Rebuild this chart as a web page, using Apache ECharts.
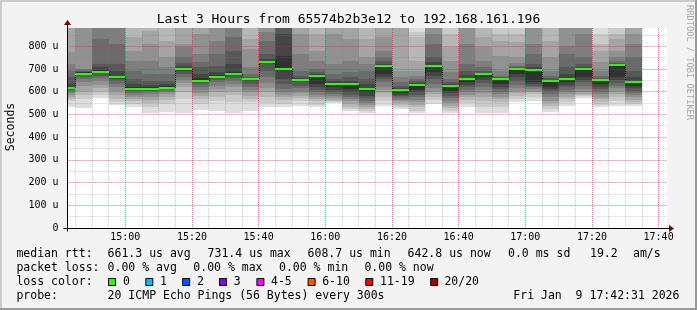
<!DOCTYPE html>
<html><head><meta charset="utf-8">
<script src="https://cdn.jsdelivr.net/npm/echarts@6/dist/echarts.min.js"></script>
<style>html,body{margin:0;padding:0;background:#f3f3f3}#c{width:697px;height:310px}</style>
</head><body><div id="c"></div>
<script>
// x values: minutes after 14:00; each bin covers (end-5, end]
const binEnds = [45,50,55,60,65,70,75,80,85,90,95,100,105,110,115,120,125,130,135,140,145,150,155,160,165,170,175,180,185,190,195,200,205,210,215];
// median rtt per bin, in microseconds
const medians = [614,679,688,666,613,613,617,701,648,666,679,657,732,701,651,669,634,634,613,713,607,629,713,625,657,678,657,701,697,647,657,701,653,719,644];
// 20 sorted ping times per bin (us); 900 = above the visible range
const pings = [
 [534,557,568,578,587,596,601,607,610,612,614,634,663,692,722,773,900,900,900,900],
 [528,568,587,604,626,641,656,666,673,679,685,688,692,695,700,900,900,900,900,900],
 [572,587,601,616,631,645,660,670,682,688,695,707,722,832,900,900,900,900,900,900],
 [541,553,568,587,604,619,634,645,656,663,670,692,722,810,900,900,900,900,900,900],
 [532,546,557,569,578,587,596,601,607,613,622,634,656,692,736,780,839,900,900,900],
 [506,531,549,563,578,590,597,604,609,613,619,631,648,678,736,810,865,900,900,900],
 [509,546,563,578,590,597,604,610,614,617,625,634,648,678,707,751,824,900,900,900],
 [506,568,597,619,636,651,663,678,692,701,705,713,725,751,795,810,900,900,900,900],
 [519,546,568,582,594,607,619,634,642,648,660,678,707,729,766,854,900,900,900,900],
 [513,560,578,597,612,626,641,651,660,666,673,685,714,766,824,900,900,900,900,900],
 [505,553,587,604,619,634,648,660,670,679,688,722,780,839,900,900,900,900,900,900],
 [516,553,568,582,597,609,619,634,648,657,659,661,666,678,707,788,832,900,900,900],
 [531,549,575,597,616,637,663,692,722,732,736,744,766,824,861,900,900,900,900,900],
 [531,546,563,575,587,597,612,634,656,701,758,854,900,900,900,900,900,900,900,900],
 [538,557,570,582,593,604,614,626,641,651,654,660,670,692,766,854,900,900,900,900],
 [531,543,557,568,578,587,597,607,619,634,669,678,685,700,736,780,854,900,900,900],
 [550,554,559,565,572,581,590,597,607,619,634,645,656,678,722,854,900,900,900,900],
 [513,524,534,546,557,568,578,587,597,612,634,648,663,685,736,832,900,900,900,900],
 [505,513,522,531,541,551,560,572,582,597,613,634,656,692,722,751,832,900,900,900],
 [538,560,578,593,607,622,641,656,666,678,713,722,736,751,780,839,900,900,900,900],
 [524,534,541,549,557,565,572,579,587,596,607,616,626,641,663,692,900,900,900,900],
 [505,516,531,543,553,563,575,587,597,607,629,637,645,656,670,692,736,839,861,900],
 [546,563,578,590,604,616,634,656,670,685,713,729,751,810,854,900,900,900,900,900],
 [505,516,528,538,550,560,572,582,593,604,625,634,641,656,685,736,795,854,900,900],
 [531,549,563,575,587,597,607,619,631,641,657,675,692,722,810,900,900,900,900,900],
 [505,534,560,578,593,607,622,637,651,663,678,684,692,707,736,795,839,900,900,900],
 [505,531,553,566,578,590,600,610,622,634,657,660,663,670,692,758,824,854,900,900],
 [553,568,581,593,604,616,631,645,663,678,701,704,707,713,725,751,817,854,900,900],
 [560,578,590,597,604,612,619,626,634,641,697,707,722,766,810,900,900,900,900,900],
 [509,524,537,549,560,575,590,601,612,622,647,651,659,670,692,751,824,900,900,900],
 [538,553,568,578,590,598,609,619,631,641,657,678,707,766,802,900,900,900,900,900],
 [573,579,584,590,600,612,626,641,653,663,701,710,722,751,854,900,900,900,900,900],
 [531,543,554,566,578,590,600,612,622,634,653,655,660,670,692,729,780,810,854,900],
 [538,557,575,590,604,614,626,640,651,663,719,722,727,736,751,780,832,854,900,900],
 [538,546,553,563,575,585,594,604,616,626,644,663,692,751,810,854,900,900,900,900]
];
const xStart = 42 + 31/60, xEnd = 222 + 31/60;   // visible window 14:42:31 .. 17:42:31
const xAxisMin = 40;                              // tick origin (multiple of the intervals)
const yMin = 0, yMax = 880;
const titleText = 'Last 3 Hours from 65574b2b3e12 to 192.168.161.196';
const yAxisName = 'Seconds';
const watermark = 'RRDTOOL / TOBI OETIKER';
const rttStats = ['661.3 us avg','731.4 us max','608.7 us min','642.8 us now','0.0 ms sd','19.2','am/s'];
const lossStats = ['0.00 % avg','0.00 % max','0.00 % min','0.00 % now'];
const lossLabels = ['0','1','2','3','4-5','6-10','11-19','20/20'];
const probeText = '20 ICMP Echo Pings (56 Bytes) every 300s';
const dateText = 'Fri Jan  9 17:42:31 2026';

// layout / style (not data)
const plotLeft = 67, plotRight = 667, plotTop = 28, plotBottom = 228;
const pxPerMin = (plotRight - plotLeft) / (xEnd - xStart);
const gridLeft = plotLeft - (xStart - xAxisMin) * pxPerMin;
const lossColors = ['#26ff00','#00b8ff','#0059ff','#7e00ff','#ff00ff','#ff5500','#ff0000','#a00000'];
const rttX = [107.6,207.6,307.6,407.6,508,590,633];
const lossX = [107.6,193.3,279,364.4];
const boxX = [108,145.3,182.2,219,256.4,307.6,365.3,430.2];
const boxLabelX = [123,160,196.9,233.8,271,322.2,380,444.4];
const lineY = [254.5,268,282,296];
const MONO = '"DejaVu Sans Mono", "Liberation Mono", monospace';
const legendFont = '11.5px ' + MONO;

const chart = echarts.init(document.getElementById('c'), null, {renderer:'canvas', devicePixelRatio:1});

function fmtTime(v){ const h = 14 + Math.floor(v/60), m = Math.round(v % 60); return h + ':' + (m<10?'0':'') + m; }

const majorRed = 'rgba(255,0,0,0.38)';
const minorGray = 'rgba(127,127,127,0.38)';

const smokeData = binEnds.map((t,i)=>[t].concat(pings[i]));
const medData = binEnds.map((t,i)=>[t, medians[i], i>0?medians[i-1]:medians[i]]);

function txt(x,y,s,extra){ return Object.assign({type:'text', x:x, y:y, z:20, style:{text:s, font:legendFont, fill:'#000', textAlign:'left', textVerticalAlign:'middle'}}, extra||{}); }

const graphics = [];
graphics.push({type:'rect', shape:{x:0,y:0,width:697,height:2}, style:{fill:'#cbcbcb'}, z:20});
graphics.push({type:'rect', shape:{x:0,y:0,width:2,height:310}, style:{fill:'#cbcbcb'}, z:20});
graphics.push({type:'rect', shape:{x:0,y:308,width:697,height:2}, style:{fill:'#999999'}, z:20});
graphics.push({type:'rect', shape:{x:695,y:0,width:2,height:310}, style:{fill:'#999999'}, z:20});
graphics.push({type:'text', x:348.5, y:19.5, z:20, style:{text:titleText, font:'13px '+MONO, fill:'#000', textAlign:'center', textVerticalAlign:'middle'}});
graphics.push({type:'text', x:11, y:127, rotation:Math.PI/2, z:20, style:{text:yAxisName, font:'11.5px '+MONO, fill:'#000', textAlign:'center', textVerticalAlign:'middle'}});
graphics.push({type:'text', x:689, y:5, rotation:-Math.PI/2, z:20, style:{text:watermark, font:'8.7px '+MONO, fill:'#a8a8a8', textAlign:'left', textVerticalAlign:'middle'}});
graphics.push(txt(16.4, lineY[0], 'median rtt:'));
rttStats.forEach((s,i)=>graphics.push(txt(rttX[i], lineY[0], s)));
graphics.push(txt(16.4, lineY[1], 'packet loss:'));
lossStats.forEach((s,i)=>graphics.push(txt(lossX[i], lineY[1], s)));
graphics.push(txt(16.4, lineY[2], 'loss color:'));
lossLabels.forEach((s,i)=>{
  graphics.push({type:'rect', z:20, shape:{x:boxX[i]+0.5, y:278.5, width:7, height:7}, style:{fill:lossColors[i], stroke:'#000', lineWidth:1}});
  graphics.push(txt(boxLabelX[i], lineY[2], s));
});
graphics.push(txt(16.4, lineY[3], 'probe:'));
graphics.push(txt(107.6, lineY[3], probeText));
graphics.push(txt(513.3, lineY[3], dateText));

const option = {
  animation:false,
  backgroundColor:'#f3f3f3',
  grid:{left:gridLeft, right:697-plotRight, top:plotTop, bottom:310-plotBottom, show:true, backgroundColor:'#ffffff', borderWidth:0},
  xAxis:[
    {type:'value', min:xAxisMin, max:xEnd, interval:20, z:3, position:'bottom',
     axisLine:{show:false}, axisTick:{show:false},
     axisLabel:{show:true, formatter:fmtTime, showMinLabel:false, showMaxLabel:false, margin:4, color:'#000', fontFamily:MONO, fontSize:10},
     splitLine:{show:true, showMinLine:false, showMaxLine:false, lineStyle:{color:majorRed, width:1, type:[1,1]}}},
    {type:'value', min:xAxisMin, max:xEnd, interval:5, z:2, position:'bottom',
     axisLine:{show:false}, axisTick:{show:false}, axisLabel:{show:false},
     splitLine:{show:true, showMinLine:false, showMaxLine:false, lineStyle:{color:minorGray, width:1, type:[1,1]}}}
  ],
  yAxis:[
    {type:'value', min:yMin, max:yMax, interval:100, z:3,
     axisLine:{show:false}, axisTick:{show:false},
     axisLabel:{show:true, formatter:v=>v===0?'0':v+' u', showMaxLabel:false, margin:0, color:'#000', fontFamily:MONO, fontSize:10},
     splitLine:{show:true, showMinLine:false, showMaxLine:false, lineStyle:{color:majorRed, width:1, type:[1,1]}}},
    {type:'value', min:yMin, max:yMax, interval:50, z:2,
     axisLine:{show:false}, axisTick:{show:false}, axisLabel:{show:false},
     splitLine:{show:true, showMinLine:false, showMaxLine:false, lineStyle:{color:minorGray, width:1, type:[1,1]}}}
  ],
  series:[
    {type:'custom', name:'smoke', z:1, xAxisIndex:0, yAxisIndex:0, data:smokeData,
     renderItem:function(params, api){
       const cs = params.coordSys;
       const t = api.value(0);
       const leftEdge = Math.round(api.coord([xStart, 0])[0]);
       let xa = Math.round(api.coord([t-5, 0])[0]);
       let xb = Math.round(api.coord([t, 0])[0]);
       xa = Math.max(xa, leftEdge); xb = Math.min(xb, cs.x+cs.width);
       const top = cs.y, bottom = cs.y+cs.height;
       const children = [];
       for (let j=0;j<19;j++){
         let y0 = Math.round(Math.min(api.coord([t, api.value(1+j)])[1], bottom));
         let y1 = Math.round(Math.max(api.coord([t, api.value(2+j)])[1], top));
         if (y0 <= y1) continue;
         const c = j <= 8 ? j+1 : 19-j;
         const g = 19*(10-c)+50;
         children.push({type:'rect', shape:{x:xa, y:y1, width:xb-xa, height:y0-y1}, style:{fill:'rgb('+g+','+g+','+g+')'}});
       }
       return {type:'group', children:children};
     }},
    {type:'custom', name:'median', z:4, xAxisIndex:0, yAxisIndex:0, data:medData,
     renderItem:function(params, api){
       const t = api.value(0), m = api.value(1), pm = api.value(2);
       const leftEdge = Math.round(api.coord([xStart, 0])[0]);
       let xa = Math.round(api.coord([t-5, m])[0]);
       const xb = Math.round(api.coord([t, m])[0]);
       const y = Math.round(api.coord([t, m])[1]);
       const yp = Math.round(api.coord([t, pm])[1]);
       const children = [];
       if (params.dataIndex > 0) children.push({type:'line', shape:{x1:xa+0.5,y1:yp,x2:xa+0.5,y2:y}, style:{stroke:'#000', lineWidth:1, lineDash:[1,1]}});
       xa = Math.max(xa, leftEdge);
       children.push({type:'line', shape:{x1:xa,y1:y,x2:xb,y2:y}, style:{stroke:'#26ff00', lineWidth:2}});
       return {type:'group', children:children};
     }}
  ],
  graphic:graphics
};
chart.setOption(option);

// hide the part of the grid left of the start time, draw axis lines with arrows
const o = chart.convertToPixel({xAxisIndex:0, yAxisIndex:0}, [xStart, yMin]);
const e = chart.convertToPixel({xAxisIndex:0, yAxisIndex:0}, [xEnd, yMax]);
const ax = Math.round(o[0]) + 0.5, ay = Math.round(o[1]) + 0.5;
const extra = [
  {type:'rect', z:3.5, shape:{x:gridLeft-0.5, y:e[1]-1, width:ax-gridLeft+0.5, height:o[1]-e[1]+2}, style:{fill:'#f3f3f3'}},
  {type:'line', z:21, shape:{x1:ax-4, y1:ay, x2:e[0]+3, y2:ay}, style:{stroke:'#000', lineWidth:1}},
  {type:'line', z:21, shape:{x1:ax, y1:ay+3, x2:ax, y2:e[1]-3}, style:{stroke:'#000', lineWidth:1}},
  {type:'polygon', z:22, shape:{points:[[e[0]+2, ay-3.5],[e[0]+7, ay],[e[0]+2, ay+3.5]]}, style:{fill:'#800000'}},
  {type:'polygon', z:22, shape:{points:[[ax-3.5, e[1]-3],[ax, e[1]-8],[ax+3.5, e[1]-3]]}, style:{fill:'#800000'}}
];
chart.setOption({graphic: graphics.concat(extra)});
</script></body></html>
